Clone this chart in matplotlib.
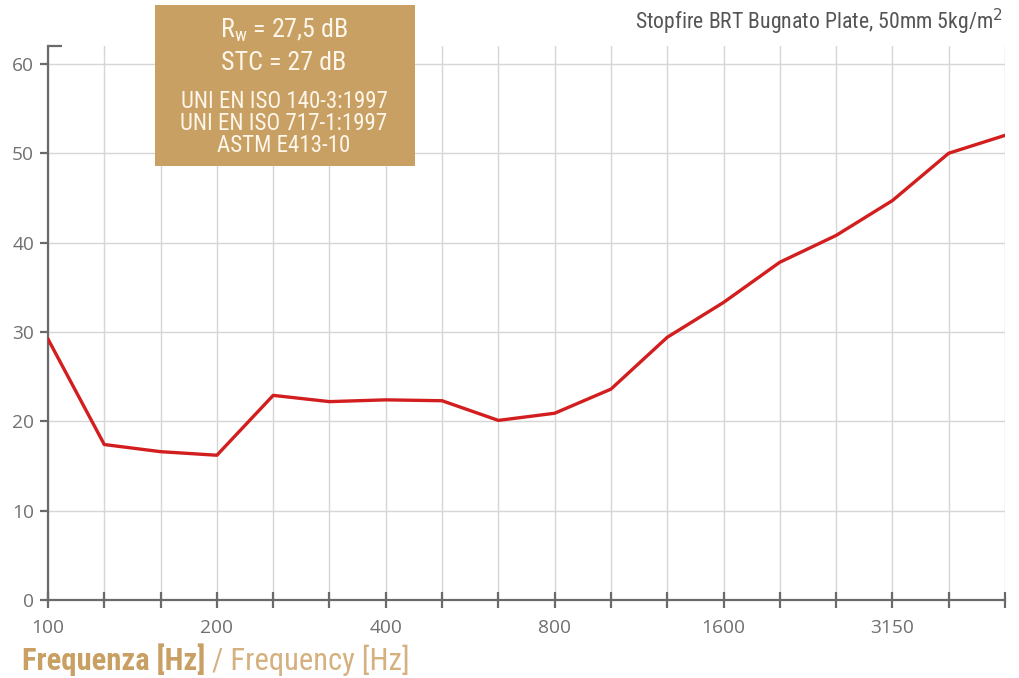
import matplotlib
matplotlib.use('Agg')
import matplotlib.pyplot as plt
from matplotlib import font_manager
import numpy as np

# third-octave bands and sound reduction index [dB]
bands = [100, 125, 160, 200, 250, 315, 400, 500, 630, 800,
         1000, 1250, 1600, 2000, 2500, 3150, 4000, 5000]
r_values = [29.2, 17.4, 16.6, 16.2, 22.9, 22.2, 22.4, 22.3, 20.1, 20.9,
            23.6, 29.4, 33.3, 37.8, 40.8, 44.7, 50.0, 52.0]
shown_labels = [100, 200, 400, 800, 1600, 3150]
y_ticks = [0, 10, 20, 30, 40, 50, 60]

title = 'Stopfire BRT Bugnato Plate, 50mm 5kg/m$^2$'
box_big = ['R$_\\mathregular{w}$ = 27,5 dB', 'STC = 27 dB']
box_small = ['UNI EN ISO 140-3:1997', 'UNI EN ISO 717-1:1997', 'ASTM E413-10']

# look for a condensed face, the original uses a narrow grotesque
names = {f.name for f in font_manager.fontManager.ttflist}
narrow_name = None
for cand in ['Roboto Condensed', 'Liberation Sans Narrow', 'Open Sans Condensed',
             'Noto Sans Condensed', 'DejaVu Sans Condensed']:
    if cand in names:
        narrow_name = cand
        break
if narrow_name is None:
    narrow = dict(family=['DejaVu Sans'], stretch='condensed')
else:
    narrow = dict(family=[narrow_name, 'DejaVu Sans'])

axis_gray = '#6a6a6a'
grid_gray = '#d6d6d6'
tan = '#c9a063'

fig = plt.figure(figsize=(10.19, 6.78), dpi=100)
ax = fig.add_axes([48 / 1019, 78 / 678, (1005 - 48) / 1019, (600 - 46) / 678])

x = np.arange(len(bands))
ax.plot(x, r_values, color='#d21e1e', lw=2.4, solid_joinstyle='round', zorder=3)

ax.set_xlim(0, len(bands) - 1)
ax.set_ylim(0, 62)
ax.set_xticks(x)
ax.set_xticklabels([str(b) if b in shown_labels else '' for b in bands])
ax.set_yticks(y_ticks)

ax.grid(True, color=grid_gray, lw=1.0)
ax.set_axisbelow(True)
for side in ['top', 'right']:
    ax.spines[side].set_visible(False)
for side in ['left', 'bottom']:
    ax.spines[side].set_color(axis_gray)
    ax.spines[side].set_linewidth(1.6)

ax.tick_params(axis='x', direction='inout', length=11, width=1.6, color=axis_gray,
               labelsize=13.8, labelcolor='#707070', pad=8)
ax.tick_params(axis='y', direction='out', length=6, width=1.6, color=axis_gray,
               labelsize=13.8, labelcolor='#707070', pad=4)
for lab in ax.get_xticklabels() + ax.get_yticklabels():
    lab.set_family('Open Sans')

# small cap at the top of the y axis
ax.plot([0, 0.015], [1, 1], transform=ax.transAxes, color=axis_gray, lw=1.6,
        clip_on=False, solid_capstyle='butt')

fig.text(1003 / 1019, 1 - 22 / 678, title, ha='right', va='center',
         fontsize=15.7, color='#555555', **narrow)

# info box
box = plt.Rectangle((155 / 1019, 1 - 166 / 678), 260 / 1019, 161 / 678,
                    transform=fig.transFigure, facecolor=tan, edgecolor='none', zorder=5)
fig.patches.append(box)
cx = 284 / 1019
for txt, ypx in zip(box_big, [30, 63]):
    fig.text(cx, 1 - ypx / 678, txt, ha='center', va='center', fontsize=18.7,
             color='#fdf6ea', zorder=6, **narrow)
for txt, ypx in zip(box_small, [101, 124, 146]):
    fig.text(cx, 1 - ypx / 678, txt, ha='center', va='center', fontsize=16.5,
             color='#fdf6ea', zorder=6, **narrow)

# x axis label in two weights
t1 = fig.text(22 / 1019, 1 - 676 / 678, 'Frequenza [Hz]', ha='left', va='bottom',
              fontsize=22, weight='bold', color=tan, **narrow)
ax.annotate(' / Frequency [Hz]', xy=(1, 0), xycoords=t1, ha='left', va='bottom',
            fontsize=22, color='#d4b17e', annotation_clip=False, **narrow)

fig.savefig('out.png', dpi=100, facecolor='white')
